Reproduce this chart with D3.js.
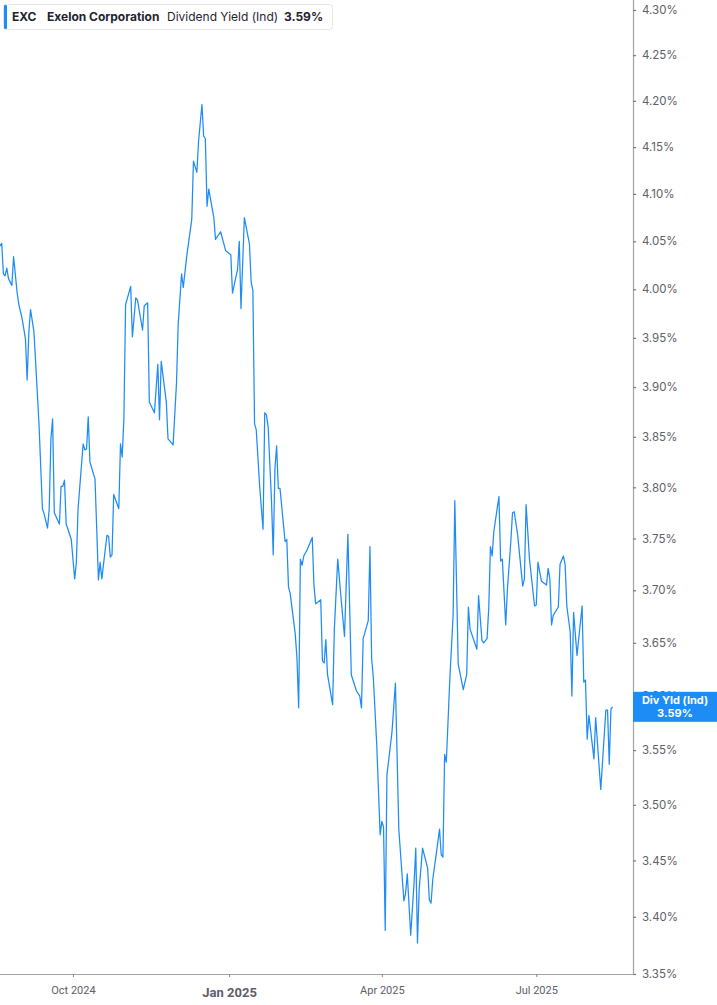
<!DOCTYPE html>
<html>
<head>
<meta charset="utf-8">
<script src="https://cdn.jsdelivr.net/npm/d3@7"></script>
<style>
  body { margin: 0; background: #fff; }
  svg { display: block; font-family: Inter, "Noto Sans", sans-serif; }
</style>
</head>
<body>
<svg id="chart" width="717" height="1005"></svg>
<script>
// ticker info
const ticker = 'EXC';
const company = 'Exelon Corporation';
const metric = 'Dividend Yield (Ind)';
const badgeLabel = 'Div Yld (Ind)';

// daily dividend yield (%)
const dates = [
  '2024-08-19','2024-08-20','2024-08-21','2024-08-22','2024-08-23','2024-08-24','2024-08-26','2024-08-27','2024-08-29','2024-08-30',
  '2024-09-01','2024-09-03','2024-09-04','2024-09-05','2024-09-06','2024-09-08','2024-09-09','2024-09-11','2024-09-13','2024-09-14',
  '2024-09-16','2024-09-17','2024-09-18','2024-09-19','2024-09-20','2024-09-23','2024-09-24','2024-09-25','2024-09-26','2024-09-27',
  '2024-09-30','2024-10-02','2024-10-03','2024-10-04','2024-10-07','2024-10-08','2024-10-09','2024-10-10','2024-10-11','2024-10-14',
  '2024-10-16','2024-10-17','2024-10-18','2024-10-21','2024-10-22','2024-10-23','2024-10-24','2024-10-25','2024-10-28','2024-10-29',
  '2024-10-30','2024-10-31','2024-11-01','2024-11-04','2024-11-05','2024-11-07','2024-11-08','2024-11-11','2024-11-12','2024-11-14',
  '2024-11-15','2024-11-18','2024-11-20','2024-11-21','2024-11-22','2024-11-25','2024-11-26','2024-11-29','2024-12-01','2024-12-02',
  '2024-12-04','2024-12-05','2024-12-07','2024-12-10','2024-12-11','2024-12-13','2024-12-14','2024-12-16','2024-12-17','2024-12-18',
  '2024-12-19','2024-12-20','2024-12-23','2024-12-24','2024-12-27','2024-12-30','2025-01-02','2025-01-03','2025-01-06','2025-01-07',
  '2025-01-08','2025-01-10','2025-01-13','2025-01-14','2025-01-15','2025-01-16','2025-01-17','2025-01-19','2025-01-21','2025-01-22',
  '2025-01-23','2025-01-24','2025-01-26','2025-01-27','2025-01-28','2025-01-29','2025-01-30','2025-01-31','2025-02-02','2025-02-03',
  '2025-02-04','2025-02-05','2025-02-06','2025-02-09','2025-02-10','2025-02-11','2025-02-12','2025-02-13','2025-02-14','2025-02-16',
  '2025-02-19','2025-02-20','2025-02-21','2025-02-24','2025-02-25','2025-02-26','2025-02-27','2025-02-28','2025-03-03','2025-03-04',
  '2025-03-06','2025-03-08','2025-03-10','2025-03-12','2025-03-14','2025-03-17','2025-03-19','2025-03-20','2025-03-21','2025-03-24',
  '2025-03-25','2025-03-26','2025-03-27','2025-03-29','2025-03-31','2025-04-01','2025-04-02','2025-04-03','2025-04-04','2025-04-07',
  '2025-04-09','2025-04-11','2025-04-14','2025-04-15','2025-04-16','2025-04-18','2025-04-20','2025-04-21','2025-04-22','2025-04-23',
  '2025-04-25','2025-04-28','2025-04-29','2025-04-30','2025-05-01','2025-05-03','2025-05-05','2025-05-06','2025-05-07','2025-05-08',
  '2025-05-09','2025-05-11','2025-05-13','2025-05-14','2025-05-16','2025-05-19','2025-05-21','2025-05-22','2025-05-23','2025-05-27',
  '2025-05-28','2025-05-30','2025-05-31','2025-06-02','2025-06-03','2025-06-04','2025-06-05','2025-06-06','2025-06-09','2025-06-10',
  '2025-06-11','2025-06-13','2025-06-14','2025-06-16','2025-06-17','2025-06-18','2025-06-20','2025-06-23','2025-06-24','2025-06-25',
  '2025-06-27','2025-06-30','2025-07-01','2025-07-02','2025-07-04','2025-07-07','2025-07-08','2025-07-09','2025-07-10','2025-07-11',
  '2025-07-14','2025-07-15','2025-07-17','2025-07-18','2025-07-19','2025-07-21','2025-07-22','2025-07-23','2025-07-25','2025-07-28',
  '2025-07-29','2025-07-30','2025-07-31','2025-08-01','2025-08-04','2025-08-05','2025-08-08','2025-08-11','2025-08-12','2025-08-13',
  '2025-08-14','2025-08-15'
];
const yields = [
  4.045,4.048,4.016,4.014,4.022,4.011,4.004,4.034,3.998,3.985,
  3.970,3.949,3.907,3.956,3.979,3.956,3.925,3.862,3.779,3.774,
  3.760,3.779,3.848,3.868,3.775,3.764,3.801,3.801,3.807,3.764,
  3.749,3.711,3.727,3.779,3.843,3.837,3.838,3.870,3.825,3.808,
  3.710,3.727,3.711,3.753,3.752,3.732,3.734,3.793,3.779,3.843,
  3.830,3.868,3.984,4.003,3.951,3.991,3.989,3.958,3.983,3.986,
  3.885,3.874,3.923,3.867,3.926,3.885,3.848,3.842,3.904,3.964,
  4.016,4.002,4.034,4.073,4.135,4.123,4.156,4.196,4.162,4.159,
  4.087,4.105,4.075,4.052,4.060,4.040,4.036,3.996,4.021,4.050,
  3.980,4.075,4.047,4.007,3.999,3.863,3.857,3.801,3.759,3.874,
  3.872,3.860,3.786,3.734,3.818,3.841,3.799,3.799,3.764,3.747,
  3.749,3.703,3.697,3.658,3.635,3.589,3.730,3.724,3.733,3.739,
  3.751,3.705,3.687,3.691,3.633,3.631,3.653,3.620,3.592,3.662,
  3.730,3.692,3.656,3.754,3.620,3.605,3.600,3.589,3.654,3.671,
  3.742,3.635,3.617,3.555,3.473,3.485,3.480,3.388,3.527,3.567,
  3.612,3.478,3.414,3.421,3.438,3.384,3.430,3.461,3.377,3.424,
  3.461,3.443,3.415,3.412,3.433,3.455,3.478,3.455,3.453,3.546,
  3.539,3.614,3.676,3.787,3.630,3.606,3.620,3.684,3.663,3.644,
  3.695,3.652,3.650,3.654,3.683,3.742,3.733,3.757,3.791,3.728,
  3.730,3.667,3.701,3.747,3.775,3.776,3.754,3.704,3.711,3.783,
  3.730,3.685,3.686,3.727,3.709,3.705,3.721,3.711,3.667,3.676,
  3.684,3.725,3.733,3.725,3.685,3.660,3.600,3.679,3.638,3.685,
  3.613,3.615,3.560,3.582,3.542,3.580,3.514,3.587,3.587,3.537,
  3.588,3.590
];

// axis ticks
const yTicks = [4.30,4.25,4.20,4.15,4.10,4.05,4.00,3.95,3.90,3.85,3.80,3.75,3.70,3.65,3.60,3.55,3.50,3.45,3.40,3.35];
const xTicks = ['2024-10-01','2025-01-01','2025-04-01','2025-07-01'];
const xTickLabels = ['Oct 2024','Jan 2025','Apr 2025','Jul 2025'];
const xDomain = ['2024-08-19','2025-08-27'];

const parse = d3.timeParse('%Y-%m-%d');
const data = dates.map((d, i) => ({ date: parse(d), value: yields[i] }));
const last = data[data.length - 1];

const svg = d3.select('#chart');
const plotW = 633, plotTop = 10, plotBottom = 974;
const lineColor = '#1e8cf5';
const axisColor = '#a3a3a3';
const textColor = '#5d6066';

const x = d3.scaleTime()
  .domain(xDomain.map(parse))
  .range([0, plotW]);

const y = d3.scaleLog()
  .domain([3.35, 4.30])
  .range([plotBottom, plotTop]);

// clip the line to the plot area
svg.append('defs').append('clipPath').attr('id', 'plot')
  .append('rect').attr('x', 0).attr('y', 0).attr('width', plotW).attr('height', plotBottom);

const line = d3.line()
  .x((d) => x(d.date))
  .y((d) => y(d.value));

svg.append('path')
  .datum(data)
  .attr('clip-path', 'url(#plot)')
  .attr('fill', 'none')
  .attr('stroke', lineColor)
  .attr('stroke-width', 1.25)
  .attr('stroke-linejoin', 'round')
  .attr('d', line);

// right axis
const yAxis = svg.append('g')
  .attr('transform', `translate(${plotW},0)`)
  .call(d3.axisRight(y).tickValues(yTicks).tickSize(3).tickPadding(6)
    .tickFormat((d) => d.toFixed(2) + '%'));
yAxis.select('.domain').attr('stroke', axisColor).attr('stroke-width', 1.2)
  .attr('d', `M0.5,0V${plotBottom}`);
yAxis.selectAll('.tick line').attr('stroke', '#777').attr('stroke-width', 1.2);
yAxis.selectAll('.tick text')
  .attr('fill', textColor)
  .attr('font-size', 11.5)
  .attr('font-family', 'Inter, sans-serif');

// bottom axis
const xAxis = svg.append('g')
  .attr('transform', `translate(0,${plotBottom})`)
  .call(d3.axisBottom(x).tickValues(xTicks.map(parse)).tickSize(3).tickPadding(9)
    .tickFormat((d, i) => xTickLabels[i]));
xAxis.select('.domain').attr('stroke', axisColor).attr('stroke-width', 1.2)
  .attr('d', `M0,0.5H${plotW + 0.5}`);
xAxis.selectAll('.tick line').attr('stroke', '#888');
xAxis.selectAll('.tick text')
  .attr('fill', textColor)
  .attr('font-size', 11)
  .attr('font-family', '"Liberation Sans Narrow", Roboto, sans-serif')
  .filter((d, i) => i === 1)
  .attr('font-size', 13)
  .attr('font-weight', 700)
  .attr('dy', '0.85em');

// last value badge
const by = y(last.value);
const badge = svg.append('g');
badge.append('rect')
  .attr('x', plotW).attr('y', by - 15)
  .attr('width', 717 - plotW).attr('height', 30)
  .attr('fill', '#1e8cf5');
badge.append('text')
  .attr('x', plotW + 42).attr('y', by - 2.5)
  .attr('text-anchor', 'middle').attr('fill', '#fff')
  .attr('font-size', 11).attr('font-weight', 700)
  .text(badgeLabel);
badge.append('text')
  .attr('x', plotW + 42).attr('y', by + 10)
  .attr('text-anchor', 'middle').attr('fill', '#fff')
  .attr('font-size', 11).attr('font-weight', 700)
  .text(last.value.toFixed(2) + '%');

// legend box
const legend = svg.append('g');
legend.append('rect')
  .attr('x', 3.5).attr('y', 4.5).attr('width', 329).attr('height', 25).attr('rx', 3)
  .attr('fill', '#fff').attr('stroke', '#e3e5ea');
legend.append('rect')
  .attr('x', 4).attr('y', 5).attr('width', 3).attr('height', 24).attr('rx', 1)
  .attr('fill', lineColor);
const legendItems = [
  { text: ticker, x: 12, bold: true },
  { text: company, x: 47, bold: true },
  { text: metric, x: 167, bold: false },
  { text: last.value.toFixed(2) + '%', x: 284, bold: true }
];
legend.selectAll('text.item')
  .data(legendItems)
  .enter()
  .append('text')
  .attr('class', 'item')
  .attr('x', (d) => d.x)
  .attr('y', 21)
  .attr('fill', '#1f2330')
  .attr('font-size', 12)
  .attr('font-weight', (d) => (d.bold ? 700 : 400))
  .text((d) => d.text);
</script>
</body>
</html>
